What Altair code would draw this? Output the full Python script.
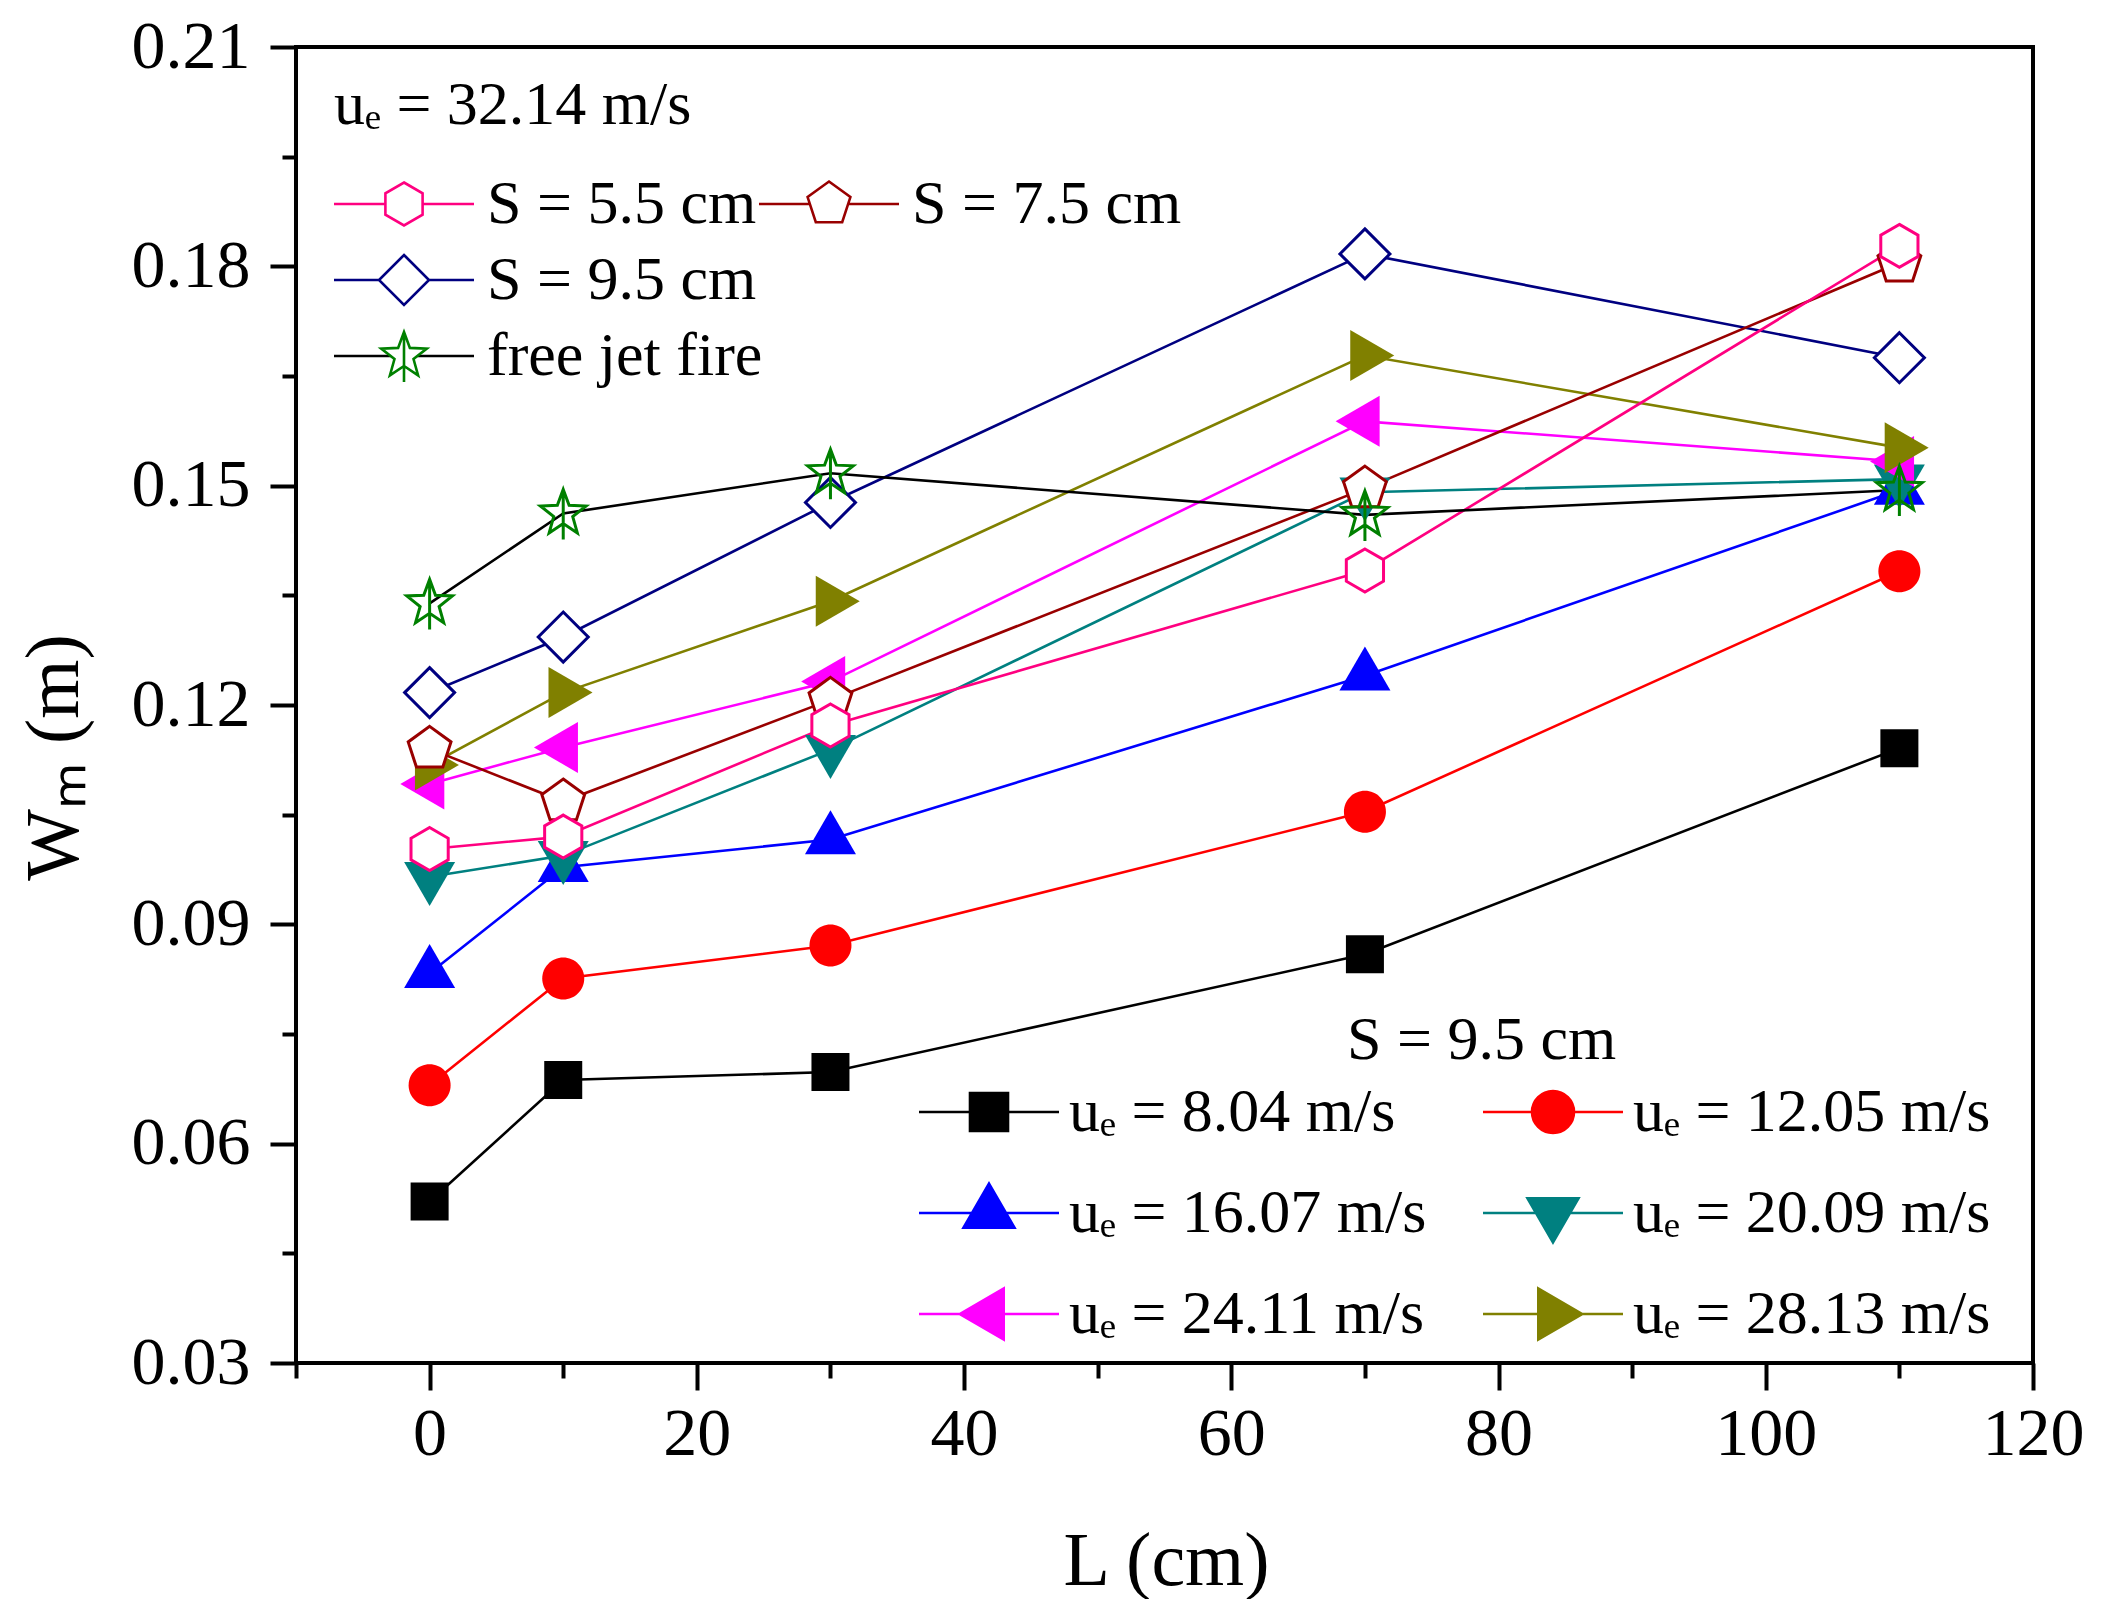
"""Flame width W_m against distance L, two series groups with inner legends."""

import math

import altair as alt
import pandas as pd

# distance L (cm)
L_CM = [0, 10, 30, 70, 110]

# S = 9.5 cm, different exit velocities
W_UE_804 = [0.0521, 0.0687, 0.0698, 0.0859, 0.1141]
W_UE_1205 = [0.0680, 0.0826, 0.0871, 0.1054, 0.1383]
W_UE_1607 = [0.0833, 0.0978, 0.1016, 0.1240, 0.1494]
W_UE_2009 = [0.0965, 0.0994, 0.1139, 0.1491, 0.1509]
W_UE_2411 = [0.1092, 0.1142, 0.1232, 0.1588, 0.1533]
W_UE_2813 = [0.1118, 0.1217, 0.1342, 0.1678, 0.1552]

# ue = 32.14 m/s, different spacings, plus the free jet
W_S_55 = [0.1003, 0.1020, 0.1172, 0.1384, 0.1828]
W_S_75 = [0.1140, 0.1068, 0.1207, 0.1496, 0.1805]
W_S_95 = [0.1217, 0.1293, 0.1477, 0.1817, 0.1675]
W_FREE = [0.1339, 0.1462, 0.1517, 0.1460, 0.1494]

UE_LABELS = [
    "uₑ = 8.04 m/s",
    "uₑ = 12.05 m/s",
    "uₑ = 16.07 m/s",
    "uₑ = 20.09 m/s",
    "uₑ = 24.11 m/s",
    "uₑ = 28.13 m/s",
]
S_LABELS = ["S = 5.5 cm", "S = 7.5 cm", "S = 9.5 cm"]
FREE_LABEL = "free jet fire"
UE_GROUP_TITLE = "uₑ = 32.14 m/s"
S_GROUP_TITLE = "S = 9.5 cm"

X_TICKS = [-10, 0, 10, 20, 30, 40, 50, 60, 70, 80, 90, 100, 110, 120]
Y_TICKS = [0.03, 0.045, 0.06, 0.075, 0.09, 0.105, 0.12, 0.135, 0.15, 0.165, 0.18, 0.195, 0.21]

UE_COLORS = ["#000000", "#ff0000", "#0000ff", "#008080", "#ff00ff", "#808000"]
S_COLORS = ["#ff0080", "#990000", "#000080"]
STAR_COLOR = "#008000"

FONT = "Liberation Serif"

# ---- marker outlines in pixels (y down) ----
SQUARE = [(-19, -19), (19, -19), (19, 19), (-19, 19)]
TRI_UP = [(0, -29.3), (25.5, 14.7), (-25.5, 14.7)]
TRI_DOWN = [(0, 29.3), (25.5, -14.7), (-25.5, -14.7)]
TRI_LEFT = [(-29.3, 0), (14.7, -25.5), (14.7, 25.5)]
TRI_RIGHT = [(29.3, 0), (-14.7, -25.5), (-14.7, 25.5)]
DIAMOND = [(0, -25), (25, 0), (0, 25), (-25, 0)]
HEXAGON = [(0, -21.5), (18.6, -10.75), (18.6, 10.75), (0, 21.5), (-18.6, 10.75), (-18.6, -10.75)]
PENTAGON = [(0, -22.5), (21.4, -6.95), (13.2, 18.2), (-13.2, 18.2), (-21.4, -6.95)]
STAR = [
    ((24 if k % 2 == 0 else 10) * math.cos(math.radians(-90 + 36 * k)),
     (24 if k % 2 == 0 else 10) * math.sin(math.radians(-90 + 36 * k)))
    for k in range(10)
]

PLOT_UNIT = 25.0  # sqrt(2500) / 2
LEGEND_UNIT = 20.0  # sqrt(1600) / 2
# legend symbol: line drawn from -20 to 120 px around the anchor, marker at +50
LEG_SHIFT = 50.0
LEG_LEFT = -20.0
LEG_RIGHT = 120.0


def poly(points, unit, dx=0.0):
    return "M" + " L".join(f"{(x + dx) / unit:.3f},{y / unit:.3f}" for x, y in points) + " Z"


def circle(r, unit, dx=0.0):
    a, b, r = (dx - r) / unit, (dx + r) / unit, r / unit
    return f"M{a:.3f},0 A{r:.3f},{r:.3f} 0 1,0 {b:.3f},0 A{r:.3f},{r:.3f} 0 1,0 {a:.3f},0 Z"


def star(unit, dx=0.0):
    return poly(STAR, unit, dx) + f" M{dx / unit:.3f},{-24 / unit:.3f} L{dx / unit:.3f},{26 / unit:.3f}"


def legend_line(left, right):
    u = LEGEND_UNIT
    return (
        f"M{LEG_LEFT / u:.3f},0 L{(LEG_SHIFT + left) / u:.3f},0 "
        f"M{(LEG_SHIFT + right) / u:.3f},0 L{LEG_RIGHT / u:.3f},0 "
    )


def legend_poly(points, left, right):
    return legend_line(left, right) + poly(points, LEGEND_UNIT, LEG_SHIFT)


UE_PLOT_SHAPES = [
    poly(SQUARE, PLOT_UNIT), circle(21, PLOT_UNIT), poly(TRI_UP, PLOT_UNIT),
    poly(TRI_DOWN, PLOT_UNIT), poly(TRI_LEFT, PLOT_UNIT), poly(TRI_RIGHT, PLOT_UNIT),
]
UE_LEGEND_SHAPES = [
    legend_poly(SQUARE, -19, 19),
    legend_line(-21, 21) + circle(21, LEGEND_UNIT, LEG_SHIFT),
    legend_poly(TRI_UP, -17, 17),
    legend_poly(TRI_DOWN, -17, 17),
    legend_poly(TRI_LEFT, -29.3, 14.7),
    legend_poly(TRI_RIGHT, -14.7, 29.3),
]
S_PLOT_SHAPES = [poly(HEXAGON, PLOT_UNIT), poly(PENTAGON, PLOT_UNIT), poly(DIAMOND, PLOT_UNIT)]
S_LEGEND_SHAPES = [
    legend_poly(HEXAGON, -18.6, 18.6),
    legend_poly(PENTAGON, -19.1, 19.1),
    legend_poly(DIAMOND, -25, 25),
]
STAR_LEGEND_SHAPE = star(LEGEND_UNIT, LEG_SHIFT)
FREE_LINE_LEGEND_SHAPE = legend_line(-13.4, 13.4).strip()


def long_table(labels, series):
    rows = []
    for label, values in zip(labels, series):
        for l_cm, w in zip(L_CM, values):
            rows.append({"series": label, "L": l_cm, "W": w})
    return pd.DataFrame(rows)


ue_df = long_table(UE_LABELS, [W_UE_804, W_UE_1205, W_UE_1607, W_UE_2009, W_UE_2411, W_UE_2813])
# 9.5 first so that 5.5 is drawn on top
s_df = long_table(S_LABELS[::-1], [W_S_95, W_S_75, W_S_55])
free_df = long_table([FREE_LABEL], [W_FREE])
all_df = pd.concat([ue_df, s_df, free_df], ignore_index=True)

x_axis = alt.Axis(
    values=X_TICKS,
    labelExpr="datum.value % 20 == 0 ? datum.label : ''",
    tickSize={"condition": {"test": "datum.value % 20 == 0", "value": 27}, "value": 15},
    tickWidth=4, tickColor="black", domain=False, grid=False,
    labelFont=FONT, labelFontSize=68, labelColor="black", labelPadding=10,
    labelFlush=False, labelOverlap=False,
    title="L (cm)", titleFont=FONT, titleFontSize=76, titleFontWeight="normal",
    titleColor="black", titleX=870, titleY=198, titleBaseline="middle", titleAlign="center",
)
y_axis = alt.Axis(
    values=Y_TICKS,
    labelExpr="round(datum.value * 1000) % 30 == 0 ? format(datum.value, '.2f') : ''",
    tickSize={"condition": {"test": "round(datum.value * 1000) % 30 == 0", "value": 26}, "value": 14},
    tickWidth=4, tickColor="black", domain=False, grid=False,
    labelFont=FONT, labelFontSize=68, labelColor="black", labelPadding=20,
    labelFlush=False, labelOverlap=False,
    title="Wₘ (m)", titleFont=FONT, titleFontSize=76, titleFontWeight="normal",
    titleColor="black", titleX=-242, titleY=710, titleAngle=270,
    titleBaseline="middle", titleAlign="center",
)
x_enc = alt.X("L:Q", scale=alt.Scale(domain=[-10, 120], nice=False, zero=False), axis=x_axis)
y_enc = alt.Y("W:Q", scale=alt.Scale(domain=[0.03, 0.21], nice=False, zero=False), axis=y_axis)


def series_scale(domain, values):
    return alt.Scale(domain=domain, range=values)


lines = (
    alt.Chart(all_df)
    .mark_line(strokeWidth=2.6)
    .encode(
        x=x_enc,
        y=y_enc,
        color=alt.Color(
            "series:N",
            scale=series_scale(UE_LABELS + S_LABELS + [FREE_LABEL], UE_COLORS + S_COLORS + ["#000000"]),
            legend=None,
        ),
    )
)

ue_points = (
    alt.Chart(ue_df)
    .mark_point(filled=True, size=2500, opacity=1, strokeWidth=0)
    .encode(
        x=x_enc,
        y=y_enc,
        color=alt.Color("series:N", scale=series_scale(UE_LABELS, UE_COLORS), legend=None),
        shape=alt.Shape("series:N", scale=series_scale(UE_LABELS, UE_PLOT_SHAPES), legend=None),
    )
)

s_points = (
    alt.Chart(s_df)
    .mark_point(filled=False, size=2500, opacity=1, strokeWidth=3)
    .encode(
        x=x_enc,
        y=y_enc,
        fill=alt.value("white"),
        color=alt.Color("series:N", scale=series_scale(S_LABELS, S_COLORS), legend=None),
        shape=alt.Shape("series:N", scale=series_scale(S_LABELS, S_PLOT_SHAPES), legend=None),
    )
)

star_points = (
    alt.Chart(free_df)
    .mark_point(shape=star(PLOT_UNIT), size=2500, filled=False, opacity=1, strokeWidth=3, color=STAR_COLOR)
    .encode(x=x_enc, y=y_enc)
)


def legend_box(**kw):
    opts = dict(
        orient="none", padding=0, symbolSize=1600, symbolStrokeWidth=2.6, symbolOpacity=1,
        symbolOffset=-11, labelOffset=102,
        labelFont=FONT, labelFontSize=62, labelColor="black", labelLimit=1000,
        titleFont=FONT, titleFontSize=62, titleFontWeight="normal", titleColor="black", titleLimit=1000,
    )
    opts.update(kw)
    return alt.Legend(**opts)


def legend_layer(df, domain, colors, shapes, legend, filled):
    base = alt.Chart(df).transform_filter("false").mark_point(filled=filled, size=1600, opacity=1)
    enc = dict(
        x=x_enc,
        y=y_enc,
        color=alt.Color("series:N", scale=series_scale(domain, colors), legend=legend),
        shape=alt.Shape("series:N", scale=series_scale(domain, shapes), legend=legend),
    )
    if not filled:
        enc["fill"] = alt.value("white")
    return base.encode(**enc)


# the ue legend fills column by column: reorder so rows read 8.04 | 12.05, ...
C_ORDER = [0, 2, 4, 1, 3, 5]
c_labels = [UE_LABELS[i] for i in C_ORDER]
c_colors = [UE_COLORS[i] for i in C_ORDER]
c_shapes = [UE_LEGEND_SHAPES[i] for i in C_ORDER]
ue_color_expr = (
    "[" + ",".join(f"'{c}'" for c in c_colors) + "][indexof(["
    + ",".join(f"'{s}'" for s in c_labels) + "], datum.value)]"
)

legend_a = legend_box(
    title=UE_GROUP_TITLE, legendX=38, legendY=28, columns=2, columnPadding=-4,
    rowPadding=14, titlePadding=36,
)
legend_b = legend_box(title=None, legendX=38, legendY=202, columns=1, rowPadding=14)
legend_d = legend_box(title=None, legendX=38, legendY=278, columns=1, labelColor="transparent")
legend_c = legend_box(
    title=None, legendX=623, legendY=1034, columns=2,
    columnPadding=50, rowPadding=35, labelOffset=99,
    symbolStrokeColor=alt.ExprRef(ue_color_expr),
    symbolFillColor=alt.ExprRef(ue_color_expr),
)
# heading of the ue legend, written as a one-entry legend with an invisible symbol
legend_e = legend_box(
    title=None, legendX=989, legendY=962, columns=1, symbolSize=1, symbolOffset=0,
    labelOffset=0, symbolStrokeWidth=0,
)

leg_a = legend_layer(s_df, S_LABELS[:2], S_COLORS[:2], S_LEGEND_SHAPES[:2], legend_a, False)
leg_b = legend_layer(
    s_df, [S_LABELS[2], FREE_LABEL], [S_COLORS[2], STAR_COLOR],
    [S_LEGEND_SHAPES[2], STAR_LEGEND_SHAPE], legend_b, False,
)
leg_d = legend_layer(free_df, [FREE_LABEL], ["#000000"], [FREE_LINE_LEGEND_SHAPE], legend_d, False)
leg_c = legend_layer(ue_df, c_labels, c_colors, c_shapes, legend_c, True)
leg_e = legend_layer(ue_df, [S_GROUP_TITLE], ["transparent"], ["circle"], legend_e, True)

chart = (
    alt.layer(lines, ue_points, s_points, star_points, leg_d, leg_a, leg_b, leg_c, leg_e)
    .resolve_scale(color="independent", shape="independent")
    .properties(
        width=1737,
        height=1316,
        padding={"left": 288, "top": 39, "right": 60, "bottom": 236},
        autosize=alt.AutoSizeParams(type="none"),
    )
    .configure_view(stroke="black", strokeWidth=4)
)

chart.save("out.html", embed_options={"renderer": "svg", "actions": False})
